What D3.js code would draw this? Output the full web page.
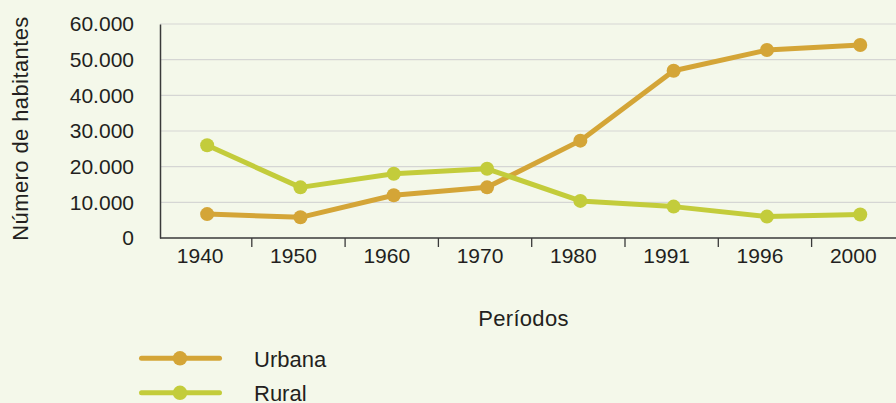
<!DOCTYPE html>
<html>
<head>
<meta charset="utf-8">
<script src="https://cdn.jsdelivr.net/npm/d3@7"></script>
<style>
  html, body { margin:0; padding:0; background:#f4f8ea; }
  svg { display:block; font-family:"Liberation Sans", Arial, sans-serif; }
</style>
</head>
<body>
<svg id="chart" width="896" height="403"></svg>
<script>
const periods = ['1940','1950','1960','1970','1980','1991','1996','2000'];
const urbana = [6700, 5800, 12000, 14200, 27300, 46900, 52700, 54100];
const rural = [26000, 14200, 18000, 19400, 10400, 8800, 6000, 6600];
const yTicks = [0, 10000, 20000, 30000, 40000, 50000, 60000];
const seriesNames = ['Urbana', 'Rural'];

const colors = { Urbana:'#d4a537', Rural:'#c3cc3b' };
const ink = '#231f20';
const svg = d3.select('#chart');
const W = 896, H = 403;
const m = { left:160, top:24, bottom:238 };

const x = d3.scaleBand().domain(periods).range([m.left - 1.5, m.left - 1.5 + 93.3*8]);
const y = d3.scaleLinear().domain([0, 60000]).range([m.bottom, m.top]);
const fmt = d => d === 0 ? '0' : d3.format(',')(d).replace(/,/g, '.');

svg.append('rect').attr('width', W).attr('height', H).attr('fill', '#f4f8ea');

// grid lines
svg.append('g').selectAll('line').data(yTicks.filter(d=>d>0)).join('line')
  .attr('x1', m.left).attr('x2', W)
  .attr('y1', d=>y(d)).attr('y2', d=>y(d))
  .attr('stroke', '#d5d6d4').attr('stroke-width', 1.2);

// y axis
const yAxis = svg.append('g').attr('transform', `translate(${m.left},0)`)
  .call(d3.axisLeft(y).tickValues(yTicks).tickFormat(fmt).tickSize(0).tickPadding(26));
yAxis.attr('font-family', null).attr('font-size', null);
yAxis.select('.domain').attr('stroke', '#3a3a3a').attr('stroke-width', 1.5);
yAxis.selectAll('text').attr('font-size', 21).attr('fill', ink);

// x axis
const xAxis = svg.append('g').attr('transform', `translate(0,${m.bottom})`)
  .call(d3.axisBottom(x).tickSize(0).tickPadding(10));
xAxis.attr('font-family', null).attr('font-size', null);
xAxis.select('.domain').remove();
xAxis.selectAll('text').attr('font-size', 21).attr('fill', ink).attr('dx', -5);
svg.append('line').attr('x1', m.left).attr('x2', W).attr('y1', m.bottom).attr('y2', m.bottom)
  .attr('stroke', '#3a3a3a').attr('stroke-width', 1.5);
svg.append('g').selectAll('line').data(periods.slice(1)).join('line')
  .attr('x1', d=>x(d)).attr('x2', d=>x(d)).attr('y1', m.bottom).attr('y2', m.bottom + 9)
  .attr('stroke', '#3a3a3a').attr('stroke-width', 1.3);

// lines
const px = d => x(d) + x.bandwidth()/2 + 2;
const line = d3.line().x(d=>px(d.p)).y(d=>y(d.v));
const series = [
  { name:'Urbana', values: periods.map((p,i)=>({p, v:urbana[i]})) },
  { name:'Rural', values: periods.map((p,i)=>({p, v:rural[i]})) }
];
// Urbana first, Rural drawn on top
series.forEach(s=>{
  svg.append('path').datum(s.values).attr('d', line)
    .attr('fill', 'none').attr('stroke', colors[s.name]).attr('stroke-width', 5).attr('stroke-linejoin', 'round');
  svg.append('g').selectAll('circle').data(s.values).join('circle')
    .attr('cx', d=>px(d.p)).attr('cy', d=>y(d.v)).attr('r', 7).attr('fill', colors[s.name]);
});

// axis titles
svg.append('text').attr('transform', 'translate(28,128.5) rotate(-90)')
  .attr('text-anchor', 'middle').attr('font-size', 22).attr('letter-spacing', 0.4)
  .attr('fill', ink).text('Número de habitantes');
svg.append('text').attr('x', 523.5).attr('y', 325.5).attr('text-anchor', 'middle')
  .attr('font-size', 22).attr('letter-spacing', 0.3).attr('fill', ink).text('Períodos');

// legend
const lg = svg.append('g').selectAll('g').data(seriesNames).join('g')
  .attr('transform', (d,i)=>`translate(0,${358.3 + i*34.5})`);
lg.append('line').attr('x1', 141.5).attr('x2', 219.5).attr('stroke', d=>colors[d]).attr('stroke-width', 5).attr('stroke-linecap', 'round');
lg.append('circle').attr('cx', 180).attr('r', 7.2).attr('fill', d=>colors[d]);
lg.append('text').attr('x', 254).attr('y', 8.5).attr('font-size', 22).attr('fill', ink).text(d=>d);
</script>
</body>
</html>
